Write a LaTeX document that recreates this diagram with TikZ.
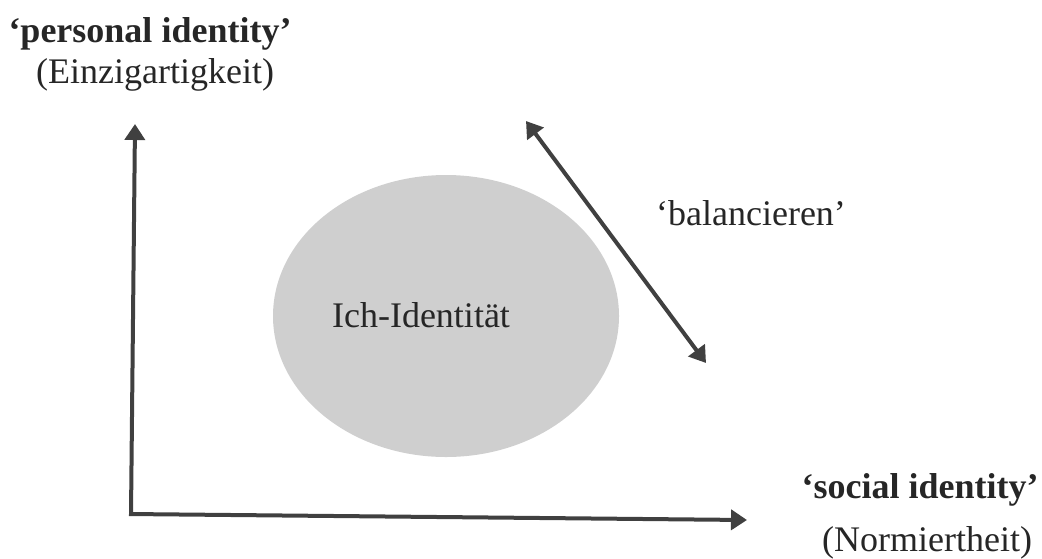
\documentclass[tikz,border=0pt]{standalone}
\usepackage{fontspec}
\setmainfont{Liberation Serif}
\usetikzlibrary{shapes.geometric,arrows.meta}
\tikzset{%
	axis/.style     = {draw=black!75, line width=2pt,
		-{Triangle[length=8pt, width=10pt]}}, % Axis
	twoway/.style   = {draw=black!75, line width=2pt,
		{Triangle[length=8pt, width=10pt]}-{Triangle[length=8pt, width=10pt]}},
	blob/.style     = {ellipse, fill=black!19, minimum width=173pt,
		minimum height=141pt}, % Ich
	lbl/.style      = {anchor=base, text=black!85, font=\fontsize{18}{20}\selectfont},
	lblb/.style     = {lbl, font=\fontsize{18}{20}\selectfont\bfseries}
}
\begin{document}
\begin{tikzpicture}[x=0.5pt,y=-0.5pt]
			\useasboundingbox (0,0) rectangle (1042,558);
			\node[blob] (ich) at (446,316) {} ;
			\node[lbl] (ichtext) at (421,327) {Ich-Identität} ;
			\node[lblb] (pers) at (150,42) {`personal identity'} ;
			\node[lbl] (einz) at (155,83) {(Einzigartigkeit)} ;
			\node[lblb] (soc) at (920,498) {`social identity'} ;
			\node[lbl] (norm) at (927,551) {(Normiertheit)} ;
			\node[lbl] (bal) at (751,225) {`balancieren'} ;

			\coordinate (origin) at (131,514);
			\coordinate (ytip) at (135,124);
			\coordinate (xtip) at (747,520);
			\coordinate (btop) at (526,121);
			\coordinate (bbot) at (706,363);

			\draw[axis] (origin) -- (ytip);
			\draw[axis] ([xshift=-1pt]origin) -- (xtip);
			\draw[twoway] (btop) -- (bbot);
		\end{tikzpicture}
\end{document}
